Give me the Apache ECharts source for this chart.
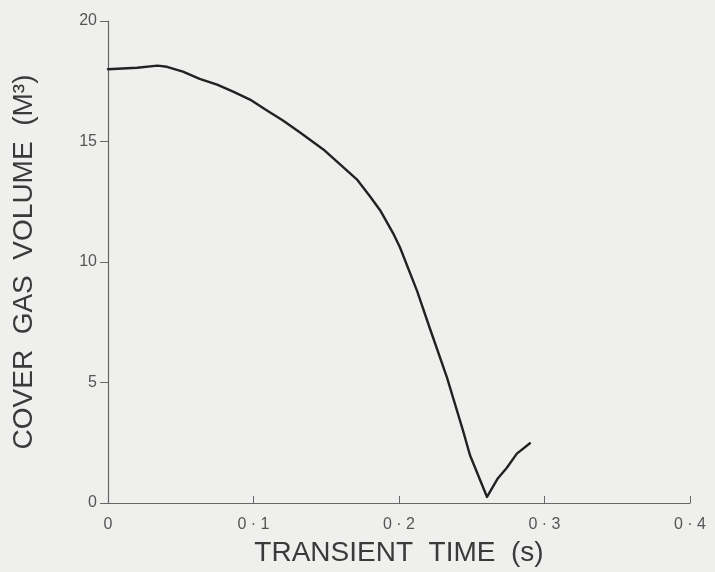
<!DOCTYPE html>
<html><head><meta charset="utf-8">
<script src="https://cdn.jsdelivr.net/npm/echarts@6/dist/echarts.min.js"></script>
<style>html,body{margin:0;padding:0;background:#efefed;}#c{width:715px;height:572px;}</style>
</head><body><div id="c"></div>
<script>
const timeS = [0, 0.02, 0.034, 0.0405, 0.0515, 0.063, 0.075, 0.086, 0.0976, 0.109, 0.12, 0.132, 0.148, 0.1595, 0.171, 0.180, 0.187, 0.1959, 0.2007, 0.2124, 0.2213, 0.233, 0.244, 0.2488, 0.2605, 0.268, 0.274, 0.281, 0.290];
const volume = [18.0, 18.06, 18.15, 18.1, 17.9, 17.6, 17.36, 17.07, 16.74, 16.3, 15.88, 15.37, 14.67, 14.05, 13.43, 12.73, 12.15, 11.2, 10.6, 8.8, 7.23, 5.2, 3.0, 1.98, 0.25, 1.03, 1.45, 2.05, 2.48];
const xTicks = ['0', '0 · 1', '0 · 2', '0 · 3', '0 · 4'];
const yTicks = ['0', '5', '10', '15', '20'];
const xTitle = 'TRANSIENT  TIME  (s)';
const yTitle = 'COVER  GAS  VOLUME  (M³)';

const ink = '#222';
const chart = echarts.init(document.getElementById('c'));
chart.setOption({
  backgroundColor: '#efefed',
  animation: false,
  grid: {left: 108, right: 25, top: 21, bottom: 64},
  xAxis: {
    type: 'value', min: 0, max: 0.4, interval: 0.1,
    name: xTitle, nameLocation: 'middle', nameGap: 36,
    nameTextStyle: {fontFamily: 'Liberation Sans', fontSize: 28, color: '#3a3a3a'},
    axisLine: {lineStyle: {color: '#666', width: 1.2}},
    axisTick: {inside: true, length: 7, lineStyle: {color: '#666'}},
    axisLabel: {fontFamily: 'Liberation Sans', fontSize: 16, color: '#555', margin: 14,
      formatter: (v) => xTicks[Math.round(v * 10)]},
    splitLine: {show: false}
  },
  yAxis: {
    type: 'value', min: 0, max: 20, interval: 5,
    name: yTitle, nameLocation: 'middle', nameGap: 70, nameRotate: 90,
    nameTextStyle: {fontFamily: 'Liberation Sans', fontSize: 28, color: '#3a3a3a'},
    axisLine: {show: true, lineStyle: {color: '#666', width: 1.2}},
    axisTick: {show: true, length: 8, lineStyle: {color: '#666'}},
    axisLabel: {fontFamily: 'Liberation Sans', fontSize: 16, color: '#555', margin: 11,
      formatter: (v) => yTicks[Math.round(v / 5)]},
    splitLine: {show: false}
  },
  series: [{
    type: 'line',
    data: timeS.map((t, i) => [t, volume[i]]),
    smooth: false,
    showSymbol: false,
    lineStyle: {color: ink, width: 2.4, join: 'round', cap: 'round'}
  }]
});
</script></body></html>
